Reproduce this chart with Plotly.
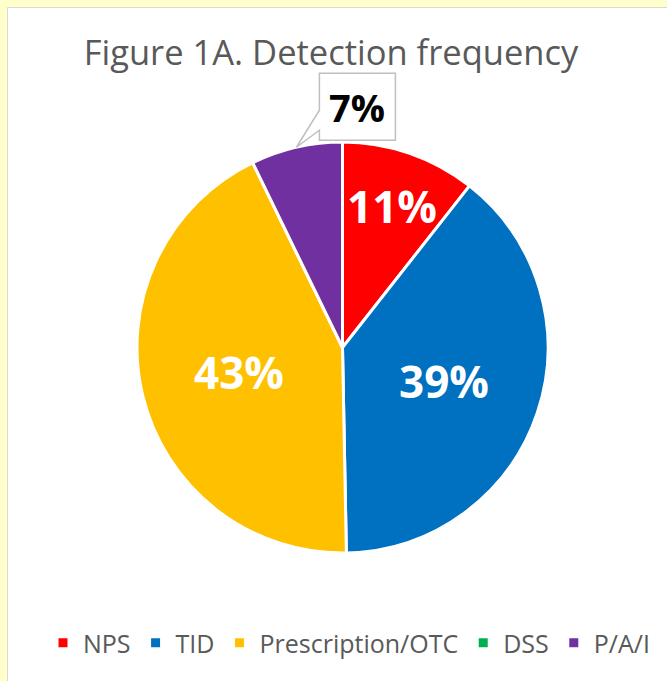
import math
import plotly.graph_objects as go

# ---- data ----
categories = ["NPS", "TID", "Prescription/OTC", "DSS", "P/A/I"]
values = [10.6, 39.1, 43.1, 0.0, 7.2]
colors = ["#FF0000", "#0070C0", "#FFC000", "#00B050", "#7030A0"]
title_text = "Figure 1A. Detection frequency"

# ---- layout geometry (pixels) ----
FIG_W, FIG_H = 667, 681
PIE_L, PIE_R, PIE_T, PIE_B = 137, 548, 142, 553
CX, CY = (PIE_L + PIE_R) / 2, (PIE_T + PIE_B) / 2
RAD = (PIE_R - PIE_L) / 2


def px_x(px):
    return px / FIG_W


def px_y(py):
    return 1 - py / FIG_H


total = sum(values)
labels_txt = [f"{round(v / total * 100)}%" for v in values]

fig = go.Figure(
    go.Pie(
        labels=categories,
        values=values,
        sort=False,
        direction="clockwise",
        rotation=0,
        marker=dict(colors=colors, line=dict(color="white", width=3)),
        textinfo="none",
        hoverinfo="label+percent",
        domain=dict(x=[px_x(PIE_L), px_x(PIE_R)], y=[px_y(PIE_B), px_y(PIE_T)]),
        showlegend=True,
    )
)

# label placement: radius factor per slice (fraction of pie radius)
radius_factor = [0.73, 0.52, 0.52, None, None]

annotations = []
cum = 0.0
mid_angles = []
for v in values:
    mid = (cum + v / 2) / total * 360.0
    mid_angles.append(mid)
    cum += v

for i, f in enumerate(radius_factor):
    if f is None or values[i] == 0:
        continue
    th = math.radians(mid_angles[i])
    annotations.append(
        dict(
            x=px_x(CX + RAD * f * math.sin(th)),
            y=px_y(CY - RAD * f * math.cos(th)),
            xref="paper",
            yref="paper",
            text=labels_txt[i],
            showarrow=False,
            font=dict(family="Open Sans", size=44, color="white", weight="bold"),
            xanchor="center",
            yanchor="middle",
        )
    )

# callout for P/A/I slice (speech-bubble box pointing at slice edge)
th = math.radians(mid_angles[4])
tx, ty = CX + RAD * math.sin(th), CY - RAD * math.cos(th)
bl, br, bt, bb = tx + 23, tx + 99, ty - 74, ty - 7
pts = [(bl, bt), (br, bt), (br, bb), (bl, bb), (bl, ty - 17), (tx, ty), (bl, ty - 37)]
path = "M " + " L ".join(f"{px_x(x):.5f},{px_y(y):.5f}" for x, y in pts) + " Z"

shapes = [
    # white chart area with light border over yellow surround
    dict(
        type="rect",
        xref="paper",
        yref="paper",
        x0=px_x(7.5),
        x1=px_x(FIG_W + 20),
        y0=px_y(FIG_H + 20),
        y1=px_y(7.5),
        fillcolor="white",
        line=dict(color="#D9D9D9", width=1),
        layer="below",
    ),
    dict(
        type="path",
        xref="paper",
        yref="paper",
        path=path,
        fillcolor="white",
        line=dict(color="#BFBFBF", width=1.5),
        layer="above",
    ),
]

annotations.append(
    dict(
        x=px_x((bl + br) / 2),
        y=px_y((bt + bb) / 2),
        xref="paper",
        yref="paper",
        text=labels_txt[4],
        showarrow=False,
        xanchor="center",
        yanchor="middle",
        font=dict(family="Open Sans", size=38, color="black", weight="bold"),
    )
)

fig.update_layout(
    width=FIG_W,
    height=FIG_H,
    margin=dict(l=0, r=0, t=0, b=0, autoexpand=False),
    paper_bgcolor="#FFFFCC",
    plot_bgcolor="white",
    title=dict(
        text=title_text,
        x=331 / FIG_W,
        xanchor="center",
        y=1 - 53 / FIG_H,
        yanchor="middle",
        xref="container",
        yref="container",
        font=dict(family="Open Sans", size=34.5, color="#595959"),
    ),
    legend=dict(
        orientation="h",
        x=px_x(349),
        xanchor="center",
        y=px_y(643),
        yanchor="middle",
        font=dict(family="Open Sans", size=25, color="#595959"),
        traceorder="normal",
        bgcolor="rgba(0,0,0,0)",
    ),
    annotations=annotations,
    shapes=shapes,
)

fig.write_html(
    "out.html",
    config={"displayModeBar": False},
    post_script="document.body.style.margin='0';document.body.style.overflow='hidden';",
)
